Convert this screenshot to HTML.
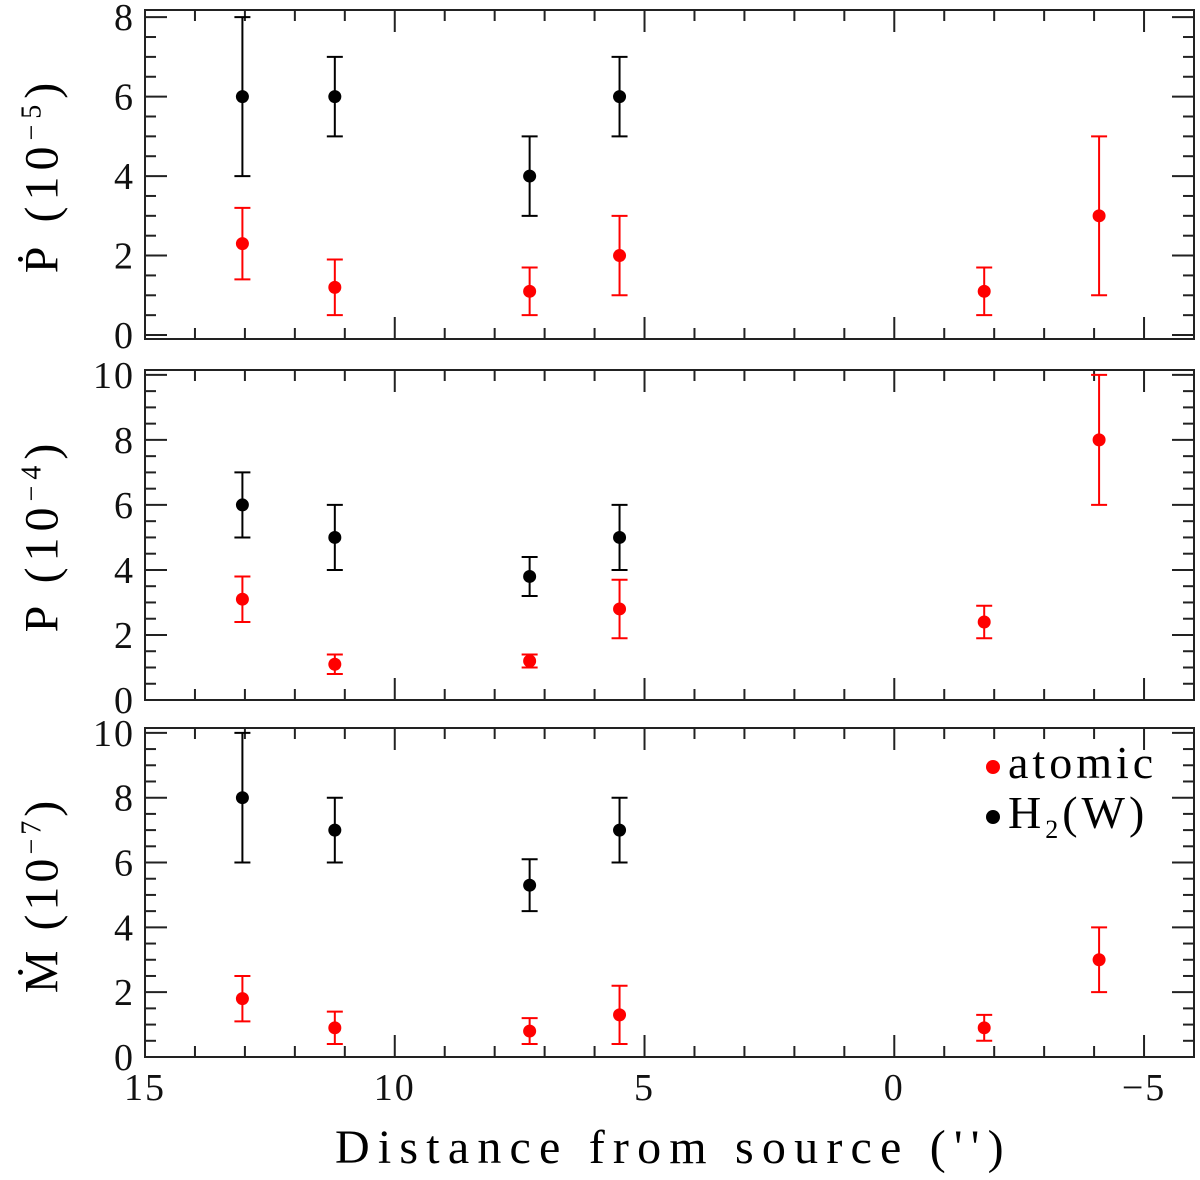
<!DOCTYPE html>
<html><head><meta charset="utf-8"><style>
html,body{margin:0;padding:0;background:#fff;}
svg{display:block;font-family:"Liberation Serif","DejaVu Serif",serif;}
</style></head><body>
<svg id="chart" width="1200" height="1180" viewBox="0 0 1200 1180"></svg>
<script>
const xPos = [13.05, 11.2, 7.3, 5.5, -1.8, -4.1];
const xTickLabels = ["15", "10", "5", "0", "\u22125"];
const xTickValues = [15, 10, 5, 0, -5];

const p1BlackVal = [6, 6, 4, 6];
const p1BlackLo = [4, 5, 3, 5];
const p1BlackHi = [8, 7, 5, 7];
const p1RedVal = [2.3, 1.2, 1.1, 2.0, 1.1, 3.0];
const p1RedLo = [1.4, 0.5, 0.5, 1.0, 0.5, 1.0];
const p1RedHi = [3.2, 1.9, 1.7, 3.0, 1.7, 5.0];

const p2BlackVal = [6, 5, 3.8, 5];
const p2BlackLo = [5, 4, 3.2, 4];
const p2BlackHi = [7, 6, 4.4, 6];
const p2RedVal = [3.1, 1.1, 1.2, 2.8, 2.4, 8.0];
const p2RedLo = [2.4, 0.8, 1.0, 1.9, 1.9, 6.0];
const p2RedHi = [3.8, 1.4, 1.4, 3.7, 2.9, 10.0];

const p3BlackVal = [8, 7, 5.3, 7];
const p3BlackLo = [6, 6, 4.5, 6];
const p3BlackHi = [10, 8, 6.1, 8];
const p3RedVal = [1.8, 0.9, 0.8, 1.3, 0.9, 3.0];
const p3RedLo = [1.1, 0.4, 0.4, 0.4, 0.5, 2.0];
const p3RedHi = [2.5, 1.4, 1.2, 2.2, 1.3, 4.0];

const NS = "http://www.w3.org/2000/svg";
const svg = document.getElementById('chart');
const L = 145, R = 1194, XMIN = 15, XMAX = -6;
function sx(v){ return L + (XMIN - v) / (XMIN - XMAX) * (R - L); }
function mk(tag, attrs, parent){
  const e = document.createElementNS(NS, tag);
  for (const k in attrs) e.setAttribute(k, attrs[k]);
  (parent || svg).appendChild(e);
  return e;
}

const panels = [
  {name:'pdot', top:10, bot:339, ymin:-0.1, ymax:8.18, ticks:[0,2,4,6,8], minorStep:0.5, bv:p1BlackVal, bl:p1BlackLo, bh:p1BlackHi, rv:p1RedVal, rl:p1RedLo, rh:p1RedHi},
  {name:'p', top:370, bot:700, ymin:0, ymax:10.15, ticks:[0,2,4,6,8,10], minorStep:0.5, bv:p2BlackVal, bl:p2BlackLo, bh:p2BlackHi, rv:p2RedVal, rl:p2RedLo, rh:p2RedHi},
  {name:'mdot', top:728, bot:1057, ymin:0, ymax:10.15, ticks:[0,2,4,6,8,10], minorStep:0.5, bv:p3BlackVal, bl:p3BlackLo, bh:p3BlackHi, rv:p3RedVal, rl:p3RedLo, rh:p3RedHi}
];

panels.forEach((p, pi) => {
  const g = mk('g', {});
  
  
  const sy = v => p.bot - (v - p.ymin) / (p.ymax - p.ymin) * (p.bot - p.top);
  const frame = mk('rect', {x:L, y:p.top, width:R-L, height:p.bot-p.top, fill:'none', stroke:'#222', 'stroke-width':2}, g);
  
  
  for (let v = 15; v >= -6; v--) {
    const x = sx(v), len = (v % 5 === 0) ? 22 : 11;
    mk('line', {x1:x, x2:x, y1:p.bot, y2:p.bot-len, stroke:'#222', 'stroke-width':2}, g);
    mk('line', {x1:x, x2:x, y1:p.top, y2:p.top+len, stroke:'#222', 'stroke-width':2}, g);
  }
  for (let v = 0; v <= p.ymax + 1e-9; v += p.minorStep) {
    const y = sy(v), major = Math.abs(v/2 - Math.round(v/2)) < 1e-6;
    const len = major ? 22 : 11;
    mk('line', {x1:L, x2:L+len, y1:y, y2:y, stroke:'#222', 'stroke-width':2}, g);
    mk('line', {x1:R, x2:R-len, y1:y, y2:y, stroke:'#222', 'stroke-width':2}, g);
  }
  p.ticks.forEach(v => {
    const t = mk('text', {x:L-10, y:sy(v)+13, 'text-anchor':'end', 'font-size':38, 'letter-spacing':2, fill:'#111'}, g);
    t.textContent = String(v);
    
    
  });
  function series(vals, lo, hi, color, nm){
    vals.forEach((v, i) => {
      const x = sx(xPos[i]);
      mk('line', {x1:x, x2:x, y1:sy(lo[i]), y2:sy(hi[i]), stroke:color, 'stroke-width':2}, g);
      mk('line', {x1:x-8, x2:x+8, y1:sy(lo[i]), y2:sy(lo[i]), stroke:color, 'stroke-width':2}, g);
      mk('line', {x1:x-8, x2:x+8, y1:sy(hi[i]), y2:sy(hi[i]), stroke:color, 'stroke-width':2}, g);
      const c = mk('circle', {cx:x, cy:sy(v), r:6.5, fill:color}, g);
      
      
    });
  }
  series(p.bv, p.bl, p.bh, '#000', 'h2');
  series(p.rv, p.rl, p.rh, '#ff0000', 'atomic');
});

xTickValues.forEach((v, i) => {
  const t = mk('text', {x:sx(v), y:1100, 'text-anchor':'middle', 'font-size':38, 'letter-spacing':2, fill:'#111'});
  t.textContent = xTickLabels[i];
  
  
});
</script>
<div style="position:absolute;left:0;top:0;width:1200px;height:1180px;pointer-events:none;font-family:'Liberation Serif','DejaVu Serif',serif;">
  <div style="position:absolute;left:335px;top:1120px;font-size:48px;letter-spacing:8.2px;white-space:nowrap;">Distance from source ('')</div>
  <div style="position:absolute;left:42px;top:175px;transform:translate(-50%,-50%) rotate(-90deg);font-size:48px;letter-spacing:6px;white-space:nowrap;">Ṗ (10<sup style="font-size:28px">−5</sup>)</div>
  <div style="position:absolute;left:42px;top:535px;transform:translate(-50%,-50%) rotate(-90deg);font-size:48px;letter-spacing:6px;white-space:nowrap;">P (10<sup style="font-size:28px">−4</sup>)</div>
  <div style="position:absolute;left:42px;top:895px;transform:translate(-50%,-50%) rotate(-90deg);font-size:48px;letter-spacing:4px;white-space:nowrap;">Ṁ (10<sup style="font-size:28px">−7</sup>)</div>
  <div style="position:absolute;left:986px;top:738px;font-size:46px;line-height:50px;letter-spacing:4px;">
    <div><span style="display:inline-block;width:14px;height:14px;border-radius:50%;background:#f00;margin-right:8px;vertical-align:middle;"></span>atomic</div>
    <div><span style="display:inline-block;width:14px;height:14px;border-radius:50%;background:#000;margin-right:8px;vertical-align:middle;"></span>H<sub style="font-size:26px">2</sub>(W)</div>
  </div>
</div>
</body></html>
